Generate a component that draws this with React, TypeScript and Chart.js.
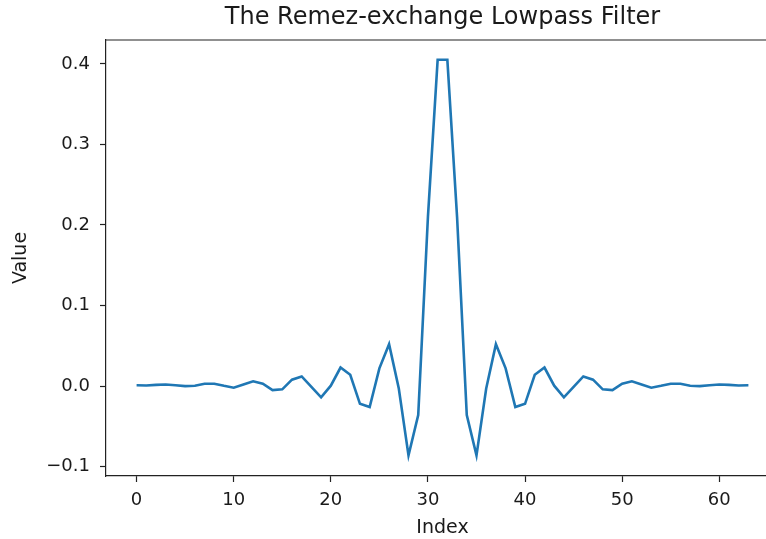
import React, { useEffect, useRef } from "react";
import { Chart, registerables } from "chart.js";

Chart.register(...registerables);

const TITLE = "The Remez-exchange Lowpass Filter";
const X_LABEL = "Index";
const Y_LABEL = "Value";

const indices = [
  0, 1, 2, 3, 4, 5, 6, 7, 8, 9, 10, 11, 12, 13, 14, 15, 16, 17, 18, 19, 20, 21,
  22, 23, 24, 25, 26, 27, 28, 29, 30, 31, 32, 33, 34, 35, 36, 37, 38, 39, 40, 41,
  42, 43, 44, 45, 46, 47, 48, 49, 50, 51, 52, 53, 54, 55, 56, 57, 58, 59, 60, 61,
  62, 63,
];

const coefficients = [
  0.001, 0.0008, 0.0015, 0.002, 0.001, 0.0, 0.0005, 0.003, 0.003, 0.0003,
  -0.002, 0.002, 0.006, 0.003, -0.005, -0.004, 0.008, 0.012, -0.001, -0.014,
  0.0005, 0.023, 0.014, -0.022, -0.026, 0.022, 0.052, -0.003, -0.086, -0.036,
  0.21, 0.405, 0.405, 0.21, -0.036, -0.086, -0.003, 0.052, 0.022, -0.026,
  -0.022, 0.014, 0.023, 0.0005, -0.014, -0.001, 0.012, 0.008, -0.004, -0.005,
  0.003, 0.006, 0.002, -0.002, 0.0003, 0.003, 0.003, 0.0005, 0.0, 0.001, 0.002,
  0.0015, 0.0008, 0.001,
];

const xTicks = [0, 10, 20, 30, 40, 50, 60];
const xTickLabels = ["0", "10", "20", "30", "40", "50", "60"];
const yTicks = [-0.1, 0.0, 0.1, 0.2, 0.3, 0.4];
const yTickLabels = ["\u22120.1", "0.0", "0.1", "0.2", "0.3", "0.4"];

const FONT = "'DejaVu Sans', sans-serif";
const TEXT = "#1a1a1a";
const AXIS = "#222";

const framePlugin = {
  id: "frame",
  afterDatasetsDraw(chart: any) {
    const { ctx, chartArea } = chart;
    ctx.save();
    ctx.strokeStyle = AXIS;
    ctx.lineWidth = 1.2;
    ctx.beginPath();
    ctx.moveTo(chartArea.left, chartArea.top);
    ctx.lineTo(chartArea.right, chartArea.top);
    ctx.lineTo(chartArea.right, chartArea.bottom);
    ctx.stroke();
    ctx.restore();
  },
};

export default function App() {
  const ref = useRef<HTMLCanvasElement | null>(null);

  useEffect(() => {
    if (!ref.current) return;
    const chart = new Chart(ref.current, {
      type: "line",
      data: {
        datasets: [
          {
            data: indices.map((x, i) => ({ x, y: coefficients[i] })),
            borderColor: "#1f77b4",
            borderWidth: 2.6,
            pointRadius: 0,
            fill: false,
            tension: 0,
          },
        ],
      },
      options: {
        responsive: false,
        animation: false,
        devicePixelRatio: 1,
        layout: { padding: { left: 0, right: 1, top: 0, bottom: 0 } },
        plugins: {
          legend: { display: false },
          tooltip: { enabled: false },
          title: {
            display: true,
            text: TITLE,
            fullSize: false,
            color: TEXT,
            font: { family: FONT, size: 24, weight: "normal" },
            padding: { top: 3, bottom: 8.2 },
          },
        },
        scales: {
          x: {
            type: "linear",
            min: -3.15,
            max: 66.15,
            afterBuildTicks: (axis: any) => {
              axis.ticks = xTicks.map((v) => ({ value: v }));
            },
            afterFit: (axis: any) => {
              axis.height = 63;
            },
            ticks: {
              autoSkip: false,
              maxRotation: 0,
              padding: 8,
              color: TEXT,
              font: { family: FONT, size: 18 },
              callback: (v: any) => {
                const k = xTicks.indexOf(Number(v));
                return k >= 0 ? xTickLabels[k] : "";
              },
            },
            grid: {
              display: true,
              drawOnChartArea: false,
              drawTicks: true,
              tickLength: 6,
              tickWidth: 1.2,
              tickColor: AXIS,
            },
            border: { display: true, color: AXIS, width: 1.2 },
            title: {
              display: true,
              text: X_LABEL,
              color: TEXT,
              font: { family: FONT, size: 19 },
              padding: { top: 0, bottom: 0 },
            },
          },
          y: {
            type: "linear",
            min: -0.1116,
            max: 0.4296,
            afterBuildTicks: (axis: any) => {
              axis.ticks = yTicks.map((v) => ({ value: v }));
            },
            afterFit: (axis: any) => {
              axis.width = 106;
            },
            ticks: {
              autoSkip: false,
              padding: 10,
              color: TEXT,
              font: { family: FONT, size: 18 },
              callback: (v: any) => {
                let k = -1;
                yTicks.forEach((t, i) => {
                  if (Math.abs(t - Number(v)) < 1e-9) k = i;
                });
                return k >= 0 ? yTickLabels[k] : "";
              },
            },
            grid: {
              display: true,
              drawOnChartArea: false,
              drawTicks: true,
              tickLength: 6,
              tickWidth: 1.2,
              tickColor: AXIS,
            },
            border: { display: true, color: AXIS, width: 1.2 },
            title: {
              display: true,
              text: Y_LABEL,
              color: TEXT,
              font: { family: FONT, size: 19 },
              padding: { top: 10, bottom: 0 },
            },
          },
        },
      },
      plugins: [framePlugin],
    } as any);
    return () => chart.destroy();
  }, []);

  return (
    <div
      style={{
        position: "absolute",
        left: 0,
        top: 0,
        width: 766,
        height: 539,
        overflow: "hidden",
        background: "#fff",
      }}
    >
      <canvas ref={ref} width={780} height={539} style={{ display: "block" }} />
    </div>
  );
}
